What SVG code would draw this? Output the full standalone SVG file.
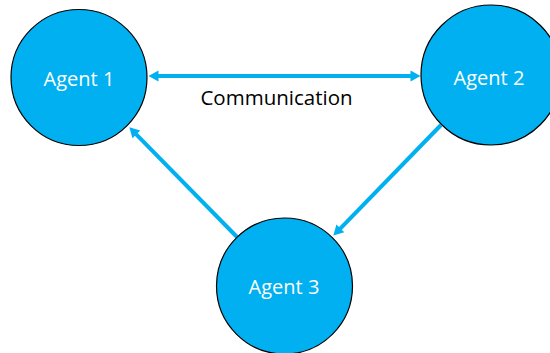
<svg xmlns="http://www.w3.org/2000/svg" width="550" height="353" viewBox="0 0 550 353">
<style>
.node{fill:#00B0F0;stroke:#000;stroke-width:1.2}
.lbl{font-family:"Open Sans","Liberation Sans",sans-serif;font-size:20px;fill:#fff;text-anchor:middle}
.cap{font-family:"Open Sans","Liberation Sans",sans-serif;font-size:20.5px;fill:#000;text-anchor:middle}
.edge{stroke:#00B0F0;stroke-width:4;fill:none}
</style>
<defs>
<marker id="ah" markerUnits="userSpaceOnUse" markerWidth="14" markerHeight="14" viewBox="-2 -7 14 14" refX="0.5" refY="0" orient="auto-start-reverse">
<path d="M0,-5.5 L10,0 L0,5.5 Z" fill="#00B0F0"/>
</marker>
</defs>
<g id="connectors">
<line class="edge" x1="158" y1="76" x2="411" y2="76" marker-start="url(#ah)" marker-end="url(#ah)"/>
<line class="edge" x1="237" y1="237" x2="136" y2="134.1" marker-end="url(#ah)"/>
<line class="edge" x1="441" y1="125" x2="340" y2="228.8" marker-end="url(#ah)"/>
</g>
<g id="agent1">
<circle class="node" cx="79" cy="77.5" r="68"/>
<text class="lbl" x="79" y="86">Agent 1</text>
</g>
<g id="agent2">
<circle class="node" cx="491" cy="75" r="70"/>
<text class="lbl" x="489" y="84.5">Agent 2</text>
</g>
<g id="agent3">
<circle class="node" cx="284.5" cy="286" r="68"/>
<text class="lbl" x="284" y="293.5">Agent 3</text>
</g>
<text class="cap" x="276.5" y="105">Communication</text>
</svg>
